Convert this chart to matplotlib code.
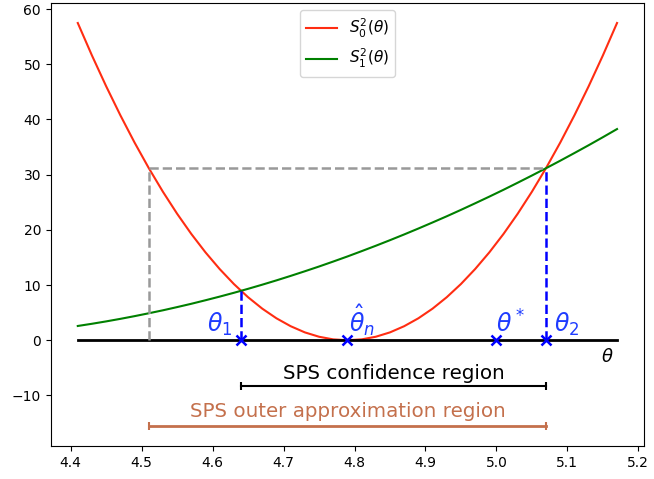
import matplotlib.pyplot as plt
import numpy as np

# theta grid and the two curves
theta = [4.41, 4.43, 4.45, 4.47, 4.49, 4.51, 4.53, 4.55, 4.57, 4.59,
         4.61, 4.63, 4.65, 4.67, 4.69, 4.71, 4.73, 4.75, 4.77, 4.79,
         4.81, 4.83, 4.85, 4.87, 4.89, 4.91, 4.93, 4.95, 4.97, 4.99,
         5.01, 5.03, 5.05, 5.07, 5.09, 5.11, 5.13, 5.15, 5.17]
s0 = [57.47, 51.58, 46.01, 40.76, 35.82, 31.20, 26.90, 22.92, 19.26, 15.92,
      12.90, 10.19, 7.80, 5.73, 3.98, 2.55, 1.43, 0.64, 0.16, 0.0,
      0.16, 0.64, 1.43, 2.55, 3.98, 5.73, 7.80, 10.19, 12.90, 15.92,
      19.26, 22.92, 26.90, 31.20, 35.82, 40.76, 46.01, 51.58, 57.47]
s1 = [2.59, 2.99, 3.42, 3.88, 4.37, 4.89, 5.43, 6.01, 6.61, 7.25,
      7.91, 8.60, 9.32, 10.07, 10.85, 11.66, 12.50, 13.36, 14.26, 15.18,
      16.14, 17.12, 18.13, 19.17, 20.24, 21.34, 22.46, 23.62, 24.81, 26.02,
      27.26, 28.54, 29.84, 31.17, 32.53, 33.92, 35.33, 36.78, 38.26]

theta1 = 4.64
theta2 = 5.07
theta_hat = 4.79
theta_star = 5.0
outer_left = 4.51
s_theta1 = 8.96
s_level = 31.2
conf_y = -8.3
outer_y = -15.5

fig = plt.figure(figsize=(6.54, 4.79), dpi=100)
ax = fig.add_subplot(111)
fig.subplots_adjust(left=0.0777, right=0.9847, top=0.9944, bottom=0.0689)

ax.plot(theta, s0, color='#ff2d12', lw=1.5, label=r'$S_0^2(\theta)$')
ax.plot(theta, s1, color='green', lw=1.5, label=r'$S_1^2(\theta)$')
ax.plot([theta[0], theta[-1]], [0, 0], color='black', lw=2)

# grey dashed box to outer approximation
ax.plot([outer_left, outer_left], [0, s_level], '--', color='#999999', lw=1.8)
ax.plot([outer_left, theta2], [s_level, s_level], '--', color='#999999', lw=1.8)

# blue dashed drops at intersections
ax.plot([theta1, theta1], [0, s_theta1], '--', color='blue', lw=1.8)
ax.plot([theta2, theta2], [0, s_level], '--', color='blue', lw=1.8)

pts = [theta1, theta_hat, theta_star, theta2]
ax.plot(pts, np.zeros(len(pts)), 'x', color='blue', ms=7, mew=1.8)

blue_txt = '#1f3cff'
ax.text(theta1 - 0.012, 0.4, r'$\theta_1$', color=blue_txt, fontsize=17, ha='right', va='bottom')
ax.text(theta_hat + 0.002, 0.4, r'$\hat{\theta}_n$', color=blue_txt, fontsize=17, ha='left', va='bottom')
ax.text(theta_star, 0.4, r'$\theta^*$', color=blue_txt, fontsize=17, ha='left', va='bottom')
ax.text(theta2 + 0.011, 0.4, r'$\theta_2$', color=blue_txt, fontsize=17, ha='left', va='bottom')
ax.text(5.147, -3.0, r'$\theta$', color='black', fontsize=13, ha='left', va='center')

# regions
ax.plot([theta1, theta2], [conf_y, conf_y], color='black', lw=1.5)
ax.plot([theta1, theta2], [conf_y, conf_y], '|', color='black', ms=6, mew=1.5)
ax.text((theta1 + theta2) / 2, conf_y + 0.6, 'SPS confidence region',
        ha='center', va='bottom', fontsize=14.3)

outer_c = '#c4704c'
ax.plot([outer_left, theta2], [outer_y, outer_y], color=outer_c, lw=2)
ax.plot([outer_left, theta2], [outer_y, outer_y], '|', color=outer_c, ms=6, mew=1.5)
ax.text((outer_left + theta2) / 2, outer_y + 0.9, 'SPS outer approximation region',
        ha='center', va='bottom', fontsize=14.3, color=outer_c)

ax.set_ylim(-19.15, 61.15)
ax.legend(loc='upper center', fontsize=11)

fig.savefig('out.png', dpi=100)
